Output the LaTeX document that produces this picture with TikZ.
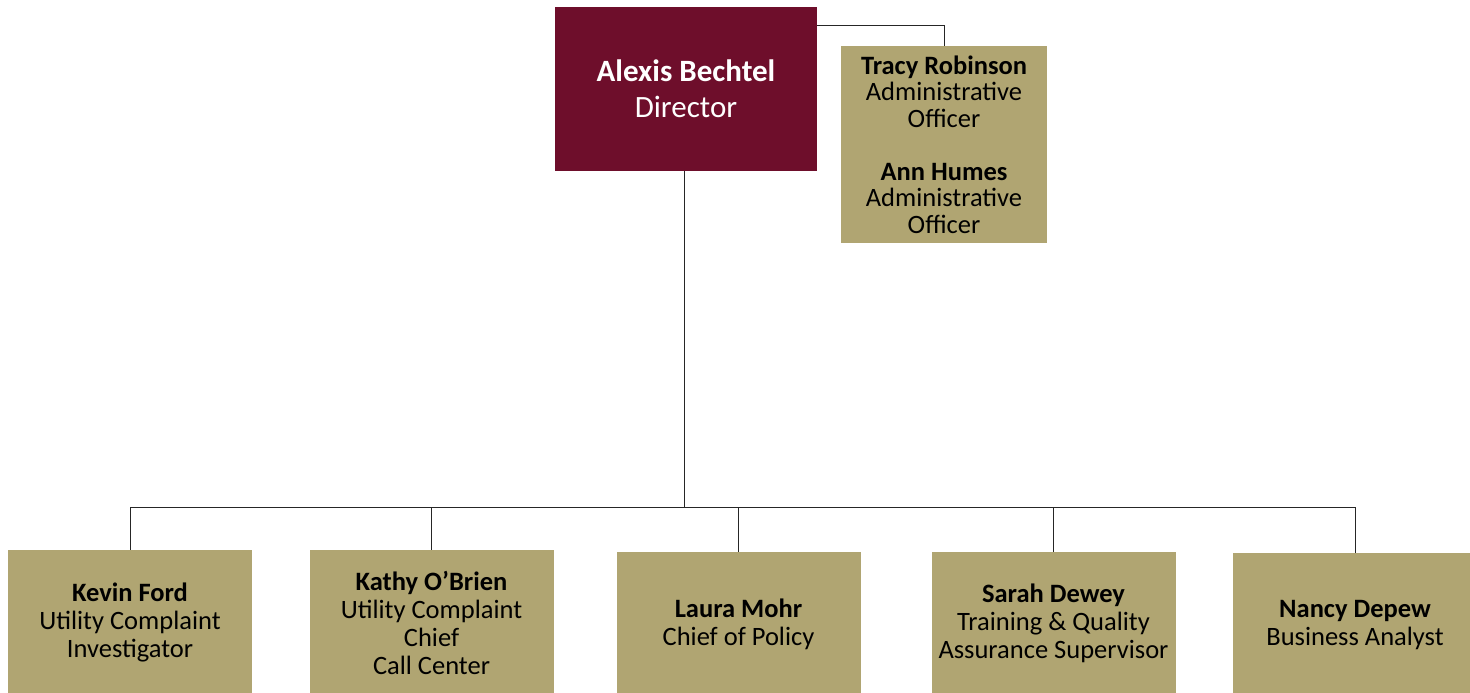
\documentclass[tikz,border=0pt]{standalone}
\usepackage{fontspec}
\setmainfont{Carlito}
\definecolor{maroonbox}{RGB}{110,14,43}
\definecolor{tanbox}{RGB}{176,165,114}
\begin{document}
\begin{tikzpicture}[x=1pt,y=-1pt,
  box/.style={fill=tanbox, inner sep=0pt, align=center, text=black,
    minimum width=244pt, minimum height=145pt, font=\fontsize{26.5}{28}\selectfont},
  conn/.style={line width=1pt, draw=black!85}]
\useasboundingbox (0,0) rectangle (1470,693);
\node[box, fill=maroonbox, text=white, minimum width=262pt, minimum height=164pt,
  font=\fontsize{31}{37}\selectfont] (dir) at (686,89) {\textbf{Alexis Bechtel}\\[-1pt]Director};
\node[box, minimum width=206pt, minimum height=197pt,
  font=\fontsize{26.5}{26.5}\selectfont] (admin) at (944,144.5)
  {\textbf{Tracy Robinson}\\Administrative\\Officer\\[26.5pt]\textbf{Ann Humes}\\Administrative\\Officer};
\node[box] (kevin) at (130,622.5) {\textbf{Kevin Ford}\\Utility Complaint\\Investigator};
\node[box] (kathy) at (431.5,622.5) {\textbf{Kathy O’Brien}\\Utility Complaint\\Chief\\Call Center};
\node[box] (laura) at (738.5,624.5) {\textbf{Laura Mohr}\\Chief of Policy};
\node[box, minimum height=142pt] (sarah) at (1053.5,623) {\textbf{Sarah Dewey}\\Training \& Quality\\Assurance Supervisor};
\node[box] (nancy) at (1355,625.5) {\textbf{Nancy Depew}\\Business Analyst};
\coordinate (bus) at (684,507.5);
\draw[conn] ([yshift=-19pt]dir.north east) -| (admin.north);
\draw[conn] ([xshift=-2pt]dir.south) -- ([xshift=-2pt]dir.south |- bus);
\draw[conn] (kevin.north) -- (kevin.north |- bus) -- (nancy.north |- bus) -- (nancy.north);
\draw[conn] (kathy.north) -- (kathy.north |- bus);
\draw[conn] (laura.north) -- (laura.north |- bus);
\draw[conn] (sarah.north) -- (sarah.north |- bus);
\end{tikzpicture}
\end{document}
